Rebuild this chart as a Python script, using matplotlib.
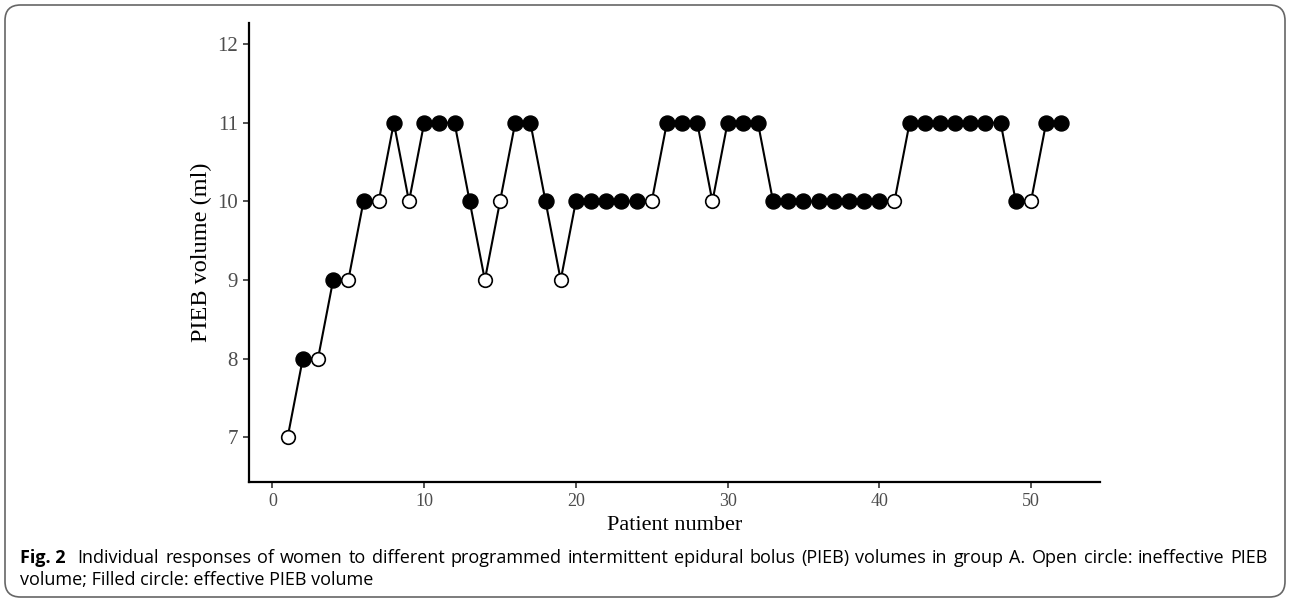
import matplotlib
matplotlib.use('Agg')
import matplotlib.pyplot as plt
from matplotlib.patches import FancyBboxPatch

# ======================
# DATA
# ======================
patients = list(range(1, 53))
volume = [7, 8, 8, 9, 9, 10, 10, 11, 10, 11,
          11, 11, 10, 9, 10, 11, 11, 10, 9, 10,
          10, 10, 10, 10, 10, 11, 11, 11, 10, 11,
          11, 11, 10, 10, 10, 10, 10, 10, 10, 10,
          10, 11, 11, 11, 11, 11, 11, 11, 10, 10,
          11, 11]
# 1 = effective (filled), 0 = ineffective (open)
effective = [0, 1, 0, 1, 0, 1, 0, 1, 0, 1,
             1, 1, 1, 0, 0, 1, 1, 1, 0, 1,
             1, 1, 1, 1, 0, 1, 1, 1, 0, 1,
             1, 1, 1, 1, 1, 1, 1, 1, 1, 1,
             0, 1, 1, 1, 1, 1, 1, 1, 1, 0,
             1, 1]
x_ticks = [0, 10, 20, 30, 40, 50]
y_ticks = [7, 8, 9, 10, 11, 12]

caption_bold = 'Fig. 2'
caption_line1 = ('Individual responses of women to different programmed intermittent epidural bolus (PIEB) '
                 'volumes in group A. Open circle: ineffective PIEB')
caption_line2 = 'volume; Filled circle: effective PIEB volume'

# ======================
# FIGURE
# ======================
W, H = 1290, 602
fig = plt.figure(figsize=(12.9, 6.02), dpi=100)
ax = fig.add_axes([0.193, 0.1993, 0.6597, 0.7625])

serif = 'Liberation Serif'

ax.plot(patients, volume, color='black', linewidth=1.5, zorder=2)
xo = [p for p, e in zip(patients, effective) if e == 0]
yo = [v for v, e in zip(volume, effective) if e == 0]
xf = [p for p, e in zip(patients, effective) if e == 1]
yf = [v for v, e in zip(volume, effective) if e == 1]
ax.plot(xo, yo, 'o', markersize=9.8, markerfacecolor='white', markeredgecolor='black',
        markeredgewidth=1.2, linestyle='none', zorder=3)
ax.plot(xf, yf, 'o', markersize=10.8, markerfacecolor='black', markeredgecolor='black',
        linestyle='none', zorder=3)

ax.set_xlim(-1.55, 54.55)
ax.set_ylim(6.43, 12.27)
ax.set_xticks(x_ticks)
ax.set_yticks(y_ticks)

for side in ['top', 'right']:
    ax.spines[side].set_visible(False)
for side in ['left', 'bottom']:
    ax.spines[side].set_linewidth(1.6)
ax.tick_params(direction='out', length=4, width=1.2, color='#333333',
               labelcolor='#4d4d4d', pad=4)
ax.tick_params(axis='x', labelsize=13)
ax.tick_params(axis='y', labelsize=15)
for lab in ax.get_xticklabels() + ax.get_yticklabels():
    lab.set_fontfamily(serif)

ax.set_xlabel('Patient number', fontsize=16, fontfamily=serif, labelpad=4)
ax.set_ylabel('PIEB volume (ml)', fontsize=17.5, fontfamily=serif)
ax.yaxis.set_label_coords(-0.043, 0.5)

# Caption (first line justified like the journal layout)
cap_fs = 13
r = fig.canvas.get_renderer()
y1 = 1 - 558 / H
y2 = 1 - 580 / H
t = fig.text(20 / W, y1, caption_bold, fontsize=cap_fs, fontweight='bold',
             fontfamily='Open Sans', va='center', ha='left')
start = t.get_window_extent(renderer=r).x1 + 12
words = caption_line1.split(' ')
texts = [fig.text(0, y1, w, fontsize=cap_fs, fontfamily='Open Sans', va='center', ha='left')
         for w in words]
widths = [tx.get_window_extent(renderer=r).width for tx in texts]
gap = (1268 - start - sum(widths)) / (len(words) - 1)
xpos = start
for tx, w in zip(texts, widths):
    tx.set_x(xpos / W)
    xpos += w + gap
fig.text(20 / W, y2, caption_line2, fontsize=cap_fs,
         fontfamily='Open Sans', va='center', ha='left')

# Outer rounded frame
frame = FancyBboxPatch((5 / W, 5 / H), 1280 / W, 592 / H,
                       boxstyle='round,pad=0,rounding_size=0.012',
                       transform=fig.transFigure, fill=False, edgecolor='#666666',
                       linewidth=1.2, mutation_aspect=W / H)
fig.patches.append(frame)

plt.savefig('out.png', dpi=100)
